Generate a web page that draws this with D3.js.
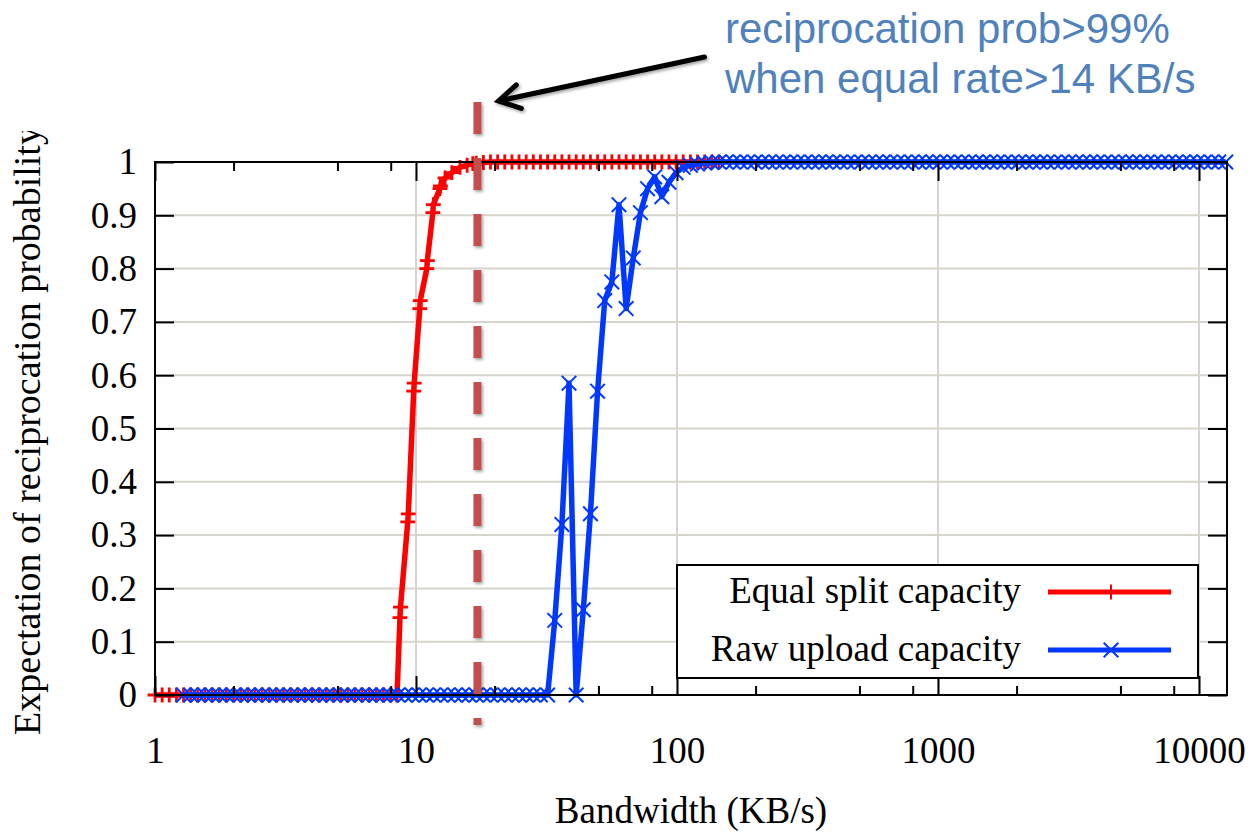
<!DOCTYPE html>
<html>
<head>
<meta charset="utf-8">
<script src="https://cdn.jsdelivr.net/npm/d3@7"></script>
<style>
  body { margin: 0; background: #fff; }
  svg { display: block; }
</style>
</head>
<body>
<svg id="chart"></svg>
<script>
// bandwidth samples (KB/s) for the raw upload capacity series
const rawRate = [
  1.286, 1.370, 1.459, 1.554, 1.655, 1.763, 1.877, 1.999, 2.129, 2.268,
  2.415, 2.572, 2.739, 2.917, 3.107, 3.309, 3.524, 3.753, 3.997, 4.257,
  4.534, 4.828, 5.142, 5.476, 5.832, 6.211, 6.615, 7.045, 7.503, 7.991,
  8.510, 9.063, 9.652, 10.28, 10.95, 11.66, 12.42, 13.22, 14.08, 15.00,
  15.97, 17.01, 18.12, 19.29, 20.55, 21.88, 23.31, 24.82, 26.44, 28.15,
  29.98, 31.93, 34.01, 36.22, 38.57, 41.08, 43.75, 46.59, 49.62, 52.85,
  56.28, 59.94, 63.84, 67.99, 72.41, 77.11, 82.12, 87.46, 93.15, 99.20,
  105.6, 112.5, 119.8, 127.6, 135.9, 144.7, 154.1, 164.2, 174.8, 186.2,
  198.3, 211.2, 224.9, 239.5, 255.1, 271.7, 289.3, 308.1, 328.2, 349.5,
  372.2, 396.4, 422.2, 449.6, 478.8, 510.0, 543.1, 578.4, 616.0, 656.1,
  698.7, 744.1, 792.5, 844.0, 898.9, 957.3, 1019, 1086, 1156, 1231,
  1311, 1397, 1487, 1584, 1687, 1797, 1914, 2038, 2170, 2311,
  2462, 2622, 2792, 2974, 3167, 3373, 3592, 3826, 4074, 4339,
  4621, 4922, 5242, 5582, 5945, 6332, 6743, 7182, 7649, 8146,
  8675, 9239, 9840, 10480, 11160, 11890, 12660
]
const rawProb = [
  0, 0, 0, 0, 0, 0, 0, 0, 0, 0,
  0, 0, 0, 0, 0, 0, 0, 0, 0, 0,
  0, 0, 0, 0, 0, 0, 0, 0, 0, 0,
  0, 0, 0, 0, 0, 0, 0, 0, 0, 0,
  0, 0, 0, 0, 0, 0, 0, 0, 0, 0,
  0, 0, 0.14, 0.32, 0.585, 0, 0.16, 0.34, 0.57, 0.74,
  0.775, 0.92, 0.725, 0.82, 0.905, 0.95, 0.972, 0.935, 0.962, 0.98,
  0.99, 0.994, 0.996, 0.998, 0.999, 1, 1, 1, 1, 1,
  1, 1, 1, 1, 1, 1, 1, 1, 1, 1,
  1, 1, 1, 1, 1, 1, 1, 1, 1, 1,
  1, 1, 1, 1, 1, 1, 1, 1, 1, 1,
  1, 1, 1, 1, 1, 1, 1, 1, 1, 1,
  1, 1, 1, 1, 1, 1, 1, 1, 1, 1,
  1, 1, 1, 1, 1, 1, 1, 1, 1, 1,
  1, 1, 1, 1, 1, 1, 1
]

// bandwidth samples (KB/s) for the equal split capacity series
const splitRate = [
  1, 1.065, 1.134, 1.208, 1.286, 1.370, 1.459, 1.554, 1.655, 1.763,
  1.877, 1.999, 2.129, 2.268, 2.415, 2.572, 2.739, 2.917, 3.107, 3.309,
  3.524, 3.753, 3.997, 4.257, 4.534, 4.828, 5.142, 5.476, 5.832, 6.211,
  6.615, 7.045, 7.503, 7.991, 8.46, 8.68, 8.72, 9.30, 9.34, 9.80,
  9.84, 10.34, 10.38, 11.00, 11.05, 11.60, 11.65, 12.35, 12.40, 12.92,
  13.72, 14.74, 15.70, 16.50, 17.01, 18.12, 19.29, 20.55, 21.88, 23.31,
  24.82, 26.44, 28.15, 29.98, 31.93, 34.01, 36.22, 38.57, 41.08, 43.75,
  46.59, 49.62, 52.85, 56.28, 59.94, 63.84, 67.99, 72.41, 77.11, 82.12,
  87.46, 93.15, 99.20, 105.6, 112.5, 119.8, 127.6, 135.9, 144.7
]
const splitProb = [
  0, 0, 0, 0, 0, 0, 0, 0, 0, 0,
  0, 0, 0, 0, 0, 0, 0, 0, 0, 0,
  0, 0, 0, 0, 0, 0, 0, 0, 0, 0,
  0, 0, 0, 0, 0, 0.145, 0.165, 0.325, 0.34, 0.57,
  0.585, 0.725, 0.74, 0.80, 0.815, 0.905, 0.92, 0.95, 0.955, 0.97,
  0.98, 0.99, 0.994, 0.997, 0.998, 0.999, 1, 1, 1, 1,
  1, 1, 1, 1, 1, 1, 1, 1, 1, 1,
  1, 1, 1, 1, 1, 1, 1, 1, 1, 1,
  1, 1, 1, 1, 1, 1, 1, 1, 1
]

const seriesNames = ["Equal split capacity", "Raw upload capacity"]
const seriesColors = ["#ff0000", "#0038ff"]

// tick values
const xTicks = [1, 10, 100, 1000, 10000]
const xMinorTicks = [2, 5, 8, 20, 50, 80, 200, 500, 800, 2000, 5000, 8000]
const yTicks = [0, 0.1, 0.2, 0.3, 0.4, 0.5, 0.6, 0.7, 0.8, 0.9, 1]

// annotation
const noteLines = ["reciprocation prob>99%", "when equal rate>14 KB/s"]
const noteRate = 17.2

const W = 1254, H = 832
var margin = {top: 162, right: 27, bottom: 137, left: 155},
  width = W - margin.left - margin.right,
  height = H - margin.top - margin.bottom;

const serif = "'Liberation Serif', 'Times New Roman', serif"

var svg = d3.select("#chart")
  .attr("width", W)
  .attr("height", H)

var defs = svg.append("defs")
defs.append("clipPath").attr("id", "ylabClip")
  .append("rect").attr("x", 0).attr("y", 131).attr("width", 120).attr("height", 700)
// drop shadow like the slide's shapes; user space so a zero-width line still gets it
defs.append("filter").attr("id", "shadow")
  .attr("filterUnits", "userSpaceOnUse")
  .attr("x", 0).attr("y", 0).attr("width", W).attr("height", H)
  .append("feDropShadow")
  .attr("dx", 1.5).attr("dy", 2).attr("stdDeviation", 1.5)
  .attr("flood-color", "#000").attr("flood-opacity", 0.35)

var x = d3.scaleLog().domain([1, 12800]).range([0, width])
var y = d3.scaleLinear().domain([0, 1]).range([height, 0])

var g = svg.append("g")
  .attr("transform", "translate(" + margin.left + "," + margin.top + ")")

// grid
g.append("g").selectAll("line")
  .data(xTicks.slice(1))
  .enter().append("line")
  .attr("x1", d => x(d)).attr("x2", d => x(d))
  .attr("y1", 0).attr("y2", height)
  .attr("stroke", "#d7d3cd").attr("stroke-width", 2)

g.append("g").selectAll("line")
  .data(yTicks.slice(1, -1))
  .enter().append("line")
  .attr("x1", 0).attr("x2", width)
  .attr("y1", d => y(d)).attr("y2", d => y(d))
  .attr("stroke", "#d7d3cd").attr("stroke-width", 2)

// series
const splitPts = splitRate.map((r, i) => ({rate: r, prob: splitProb[i]}))
const rawPts = rawRate.map((r, i) => ({rate: r, prob: rawProb[i]}))

const line = d3.line().x(d => x(d.rate)).y(d => y(d.prob))
const plusSym = d3.symbol(d3.symbolPlus, 74)
const timesSym = d3.symbol(d3.symbolTimes, 140)

var series = [
  {pts: splitPts, color: seriesColors[0], sym: plusSym, mw: 2.8, lw: 5.5},
  {pts: rawPts, color: seriesColors[1], sym: timesSym, mw: 2, lw: 5.5}
]

series.forEach(s => {
  g.append("path")
    .datum(s.pts)
    .attr("fill", "none")
    .attr("stroke", s.color)
    .attr("stroke-width", s.lw)
    .attr("stroke-linejoin", "round")
    .attr("d", line)

  g.append("g").selectAll("path")
    .data(s.pts)
    .enter().append("path")
    .attr("transform", d => "translate(" + x(d.rate) + "," + y(d.prob) + ")")
    .attr("d", s.sym)
    .attr("fill", "none")
    .attr("stroke", s.color)
    .attr("stroke-width", s.mw)
})

// axes (ticks drawn inward, gnuplot style)
g.append("g")
  .attr("transform", "translate(0," + height + ")")
  .call(d3.axisBottom(x).tickValues(xTicks).tickSize(-19).tickPadding(42)
    .tickFormat(d3.format("d")))
g.append("g")
  .attr("transform", "translate(0," + height + ")")
  .call(d3.axisBottom(x).tickValues(xMinorTicks).tickSize(-9).tickFormat(""))
g.append("g")
  .call(d3.axisTop(x).tickValues(xTicks).tickSize(-19).tickFormat(""))
g.append("g")
  .call(d3.axisTop(x).tickValues(xMinorTicks).tickSize(-9).tickFormat(""))

g.append("g")
  .call(d3.axisLeft(y).tickValues(yTicks).tickSize(-19).tickPadding(18)
    .tickFormat(d3.format("~g")))
g.append("g")
  .attr("transform", "translate(" + width + ",0)")
  .call(d3.axisRight(y).tickValues(yTicks).tickSize(-19).tickFormat(""))

g.selectAll(".domain").remove()
g.selectAll(".tick line").attr("stroke", "#000").attr("stroke-width", 2)
g.selectAll(".tick text")
  .attr("font-family", serif)
  .attr("font-size", 37)
  .attr("fill", "#000")

// border
g.append("rect")
  .attr("width", width).attr("height", height)
  .attr("fill", "none").attr("stroke", "#000").attr("stroke-width", 2)

// axis titles
svg.append("text")
  .attr("x", margin.left + width / 2)
  .attr("y", 823)
  .attr("text-anchor", "middle")
  .attr("font-family", serif).attr("font-size", 37)
  .text("Bandwidth (KB/s)")

svg.append("g").attr("clip-path", "url(#ylabClip)")
  .append("text")
  .attr("transform", "translate(40," + (margin.top + height / 2 + 2) + ") rotate(-90)")
  .attr("text-anchor", "middle")
  .attr("font-family", serif).attr("font-size", 38)
  .text("Expectation of reciprocation probability")

// legend
var lg = g.append("g")
  .attr("transform", "translate(" + (width - 29 - 521) + "," + (height - 17 - 113) + ")")
lg.append("rect")
  .attr("width", 521).attr("height", 113)
  .attr("fill", "#fff").attr("stroke", "#000").attr("stroke-width", 2)

var items = lg.selectAll(".item")
  .data(series)
  .enter().append("g")
  .attr("class", "item")
  .attr("transform", (d, i) => "translate(0," + (27 + i * 58) + ")")

items.append("text")
  .attr("x", 344).attr("y", 11)
  .attr("text-anchor", "end")
  .attr("font-family", serif).attr("font-size", 37)
  .text((d, i) => seriesNames[i])
items.append("line")
  .attr("x1", 371).attr("x2", 494)
  .attr("stroke", d => d.color).attr("stroke-width", 5)
items.append("path")
  .attr("transform", "translate(434,0)")
  .attr("d", d => d.sym())
  .attr("fill", "none")
  .attr("stroke", d => d.color)
  .attr("stroke-width", 2)

// annotation: dashed marker line + arrow + note
const noteX = margin.left + x(noteRate)
svg.append("line")
  .attr("x1", noteX).attr("x2", noteX)
  .attr("y1", 102).attr("y2", 725)
  .attr("stroke", "#c0504d").attr("stroke-width", 8)
  .attr("stroke-dasharray", "32,24")
  .attr("filter", "url(#shadow)")

const tip = [noteX + 21, 101], tail = [noteX + 227, 57]
const ang = Math.atan2(tail[1] - tip[1], tail[0] - tip[0])
const arm = 24
const a1 = [tip[0] + arm * Math.cos(ang + Math.PI / 6), tip[1] + arm * Math.sin(ang + Math.PI / 6)]
const a2 = [tip[0] + arm * Math.cos(ang - Math.PI / 6), tip[1] + arm * Math.sin(ang - Math.PI / 6)]
svg.append("path")
  .attr("d", "M" + tail + "L" + tip + "M" + a1 + "L" + tip + "L" + a2)
  .attr("fill", "none").attr("stroke", "#000").attr("stroke-width", 5)
  .attr("stroke-linecap", "round").attr("stroke-linejoin", "miter")
  .attr("filter", "url(#shadow)")

svg.append("g").selectAll("text")
  .data(noteLines)
  .enter().append("text")
  .attr("x", 725)
  .attr("y", (d, i) => 43 + i * 50)
  .attr("font-family", "'Liberation Sans', Arial, sans-serif")
  .attr("font-size", 42)
  .attr("fill", "#4f81bd")
  .text(d => d)
</script>
</body>
</html>
